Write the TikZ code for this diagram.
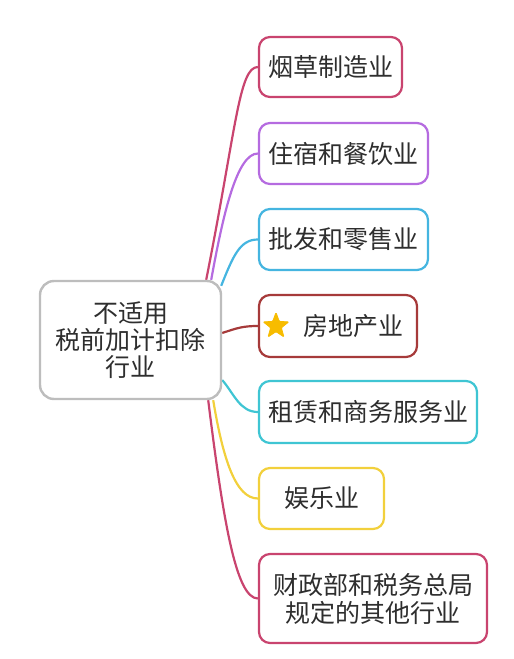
\documentclass[tikz,border=0pt]{standalone}
\usepackage{fontspec}
\setmainfont{Noto Sans CJK SC}
\usetikzlibrary{shapes.geometric}
\definecolor{crim}{HTML}{C9446F}
\definecolor{purp}{HTML}{B56BE0}
\definecolor{sky}{HTML}{45B5E0}
\definecolor{dred}{HTML}{A63A3A}
\definecolor{teal2}{HTML}{3FC5D3}
\definecolor{yell}{HTML}{F2D03C}
\definecolor{stargold}{HTML}{F7BC00}
\definecolor{txt}{HTML}{2E2E2E}
\definecolor{cgray}{HTML}{BDBDBD}
\pgfdeclarelayer{bg}
\pgfsetlayers{bg,main}
\tikzset{
  leaf/.style={draw=#1, line width=2.2pt, rounded corners=11pt, fill=white,
    inner sep=0pt, align=center, text=txt, font=\fontsize{25}{28}\selectfont},
  link/.style={draw=#1, line width=2.2pt},
}
\begin{document}
\begin{tikzpicture}[x=1pt,y=-1pt]
\useasboundingbox (0,0) rectangle (514,659);
% nodes
\node[draw=cgray, line width=2.4pt, rounded corners=14pt, fill=white, inner sep=0pt,
  align=center, text=txt, font=\fontsize{25}{27}\selectfont,
  minimum width=181pt, minimum height=118pt] (center) at (130.5,340)
  {不适用\\税前加计扣除\\行业};
\node[leaf=crim, minimum width=143pt, minimum height=60pt] (b1) at (330.5,67) {烟草制造业};
\node[leaf=purp, minimum width=169pt, minimum height=61pt] (b2) at (343.5,153.5) {住宿和餐饮业};
\node[leaf=sky, minimum width=169pt, minimum height=61pt] (b3) at (343.5,239.5) {批发和零售业};
\node[leaf=dred, minimum width=158pt, minimum height=62pt] (b4) at (338,326) {};
\node[star, star points=5, star point ratio=2.4, fill=stargold, draw=stargold,
  line width=0.8pt, rounded corners=1pt, minimum size=27pt, inner sep=0pt] (st) at (276,326) {};
\node[text=txt, font=\fontsize{25}{28}\selectfont, inner sep=0pt] (t4) at (353,326) {房地产业};
\node[leaf=teal2, minimum width=218pt, minimum height=62pt] (b5) at (368,412) {租赁和商务服务业};
\node[leaf=yell, minimum width=125pt, minimum height=61pt] (b6) at (321.5,498.5) {娱乐业};
\node[leaf=crim, minimum width=228pt, minimum height=89pt] (b7) at (373,598.5) {财政部和税务总局\\规定的其他行业};
% connectors
\begin{pgfonlayer}{bg}
\draw[link=crim] ([xshift=-16pt]center.north east) .. controls +(30,-151) and +(-19,0) .. (b1.west);
\draw[link=purp] ([xshift=-11pt]center.north east) .. controls +(12,-66) and +(-21,0) .. (b2.west);
\draw[link=sky] ([xshift=-1pt,yshift=-6pt]center.north east) .. controls +(12,-30) and +(-18,0) .. (b3.west);
\draw[link=dred] ([yshift=7pt]center.east) .. controls +(15,-5) and +(-15,0) .. (b4.west);
\draw[link=teal2] ([yshift=-40pt]center.east) .. controls +(12,14) and +(-18,0) .. (b5.west);
\draw[link=yell] ([xshift=-9pt]center.south east) .. controls +(10,60) and +(-22,0) .. (b6.west);
\draw[link=crim] ([xshift=-14pt]center.south east) .. controls +(15,120) and +(-22,0) .. (b7.west);
\end{pgfonlayer}
\end{tikzpicture}
\end{document}
